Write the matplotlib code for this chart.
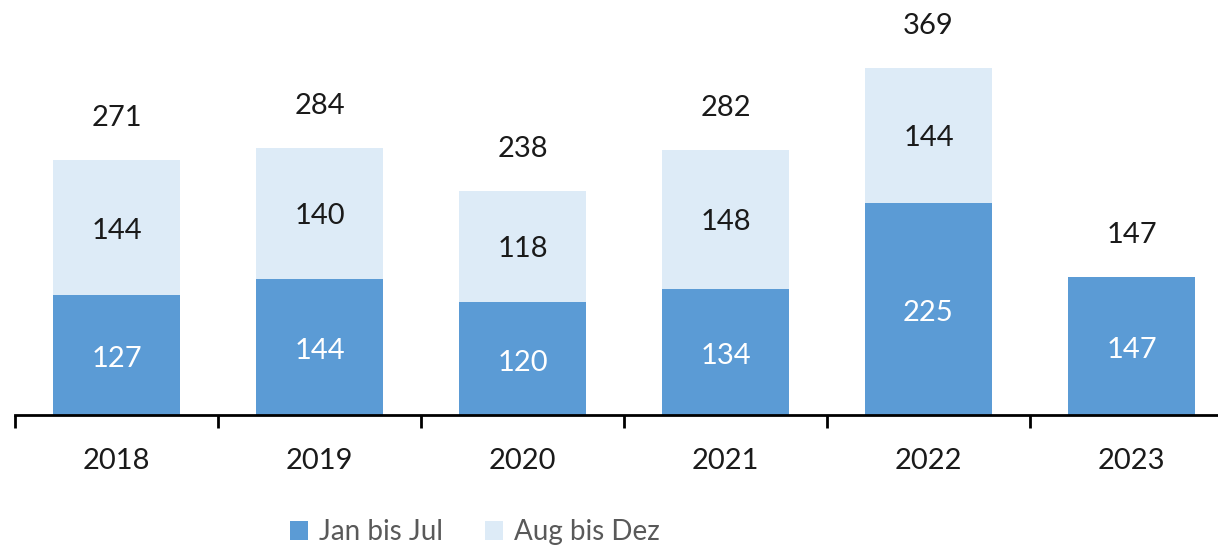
import matplotlib
matplotlib.use("Agg")
import matplotlib.pyplot as plt
import numpy as np

years = ["2018", "2019", "2020", "2021", "2022", "2023"]
jan_jul = [127, 144, 120, 134, 225, 147]
aug_dez = [144, 140, 118, 148, 144, 0]
totals = [271, 284, 238, 282, 369, 147]

plt.rcParams['font.family'] = ['Lato', 'DejaVu Sans']

c_dark = "#5B9BD5"
c_light = "#DDEBF7"

fig = plt.figure(figsize=(12.18, 5.48), dpi=100)
ax = fig.add_axes([15/1218, 133/548, 1.0, 415/548])

x = np.arange(len(years))
w = 0.625
b1 = ax.bar(x, jan_jul, width=w, color=c_dark, label="Jan bis Jul", zorder=2)
b2 = ax.bar(x, aug_dez, width=w, bottom=jan_jul, color=c_light, label="Aug bis Dez", zorder=2)

fs = 21
for i in range(len(years)):
    ax.annotate(str(jan_jul[i]), (x[i], jan_jul[i] / 2), xytext=(0, -3),
                textcoords='offset points', ha='center', va='center',
                color='white', fontsize=fs)
    if aug_dez[i] > 0:
        ax.annotate(str(aug_dez[i]), (x[i], jan_jul[i] + aug_dez[i] / 2), xytext=(0, -2),
                    textcoords='offset points', ha='center', va='center',
                    color='#1a1a1a', fontsize=fs)
    ax.annotate(str(totals[i]), (x[i], totals[i]), xytext=(0, 30),
                textcoords='offset points', ha='center', va='center',
                color='#1a1a1a', fontsize=fs)

ax.set_xlim(-0.5, len(years) - 0.5)
ax.set_ylim(0, 441)
for s in ['top', 'right', 'left']:
    ax.spines[s].set_visible(False)
ax.spines['bottom'].set_linewidth(2)
ax.spines['bottom'].set_color('black')
ax.spines['bottom'].set_zorder(3)
ax.set_yticks([])
ax.set_xticks(x)
ax.set_xticklabels(years, fontsize=fs, color='#1a1a1a')
ax.tick_params(axis='x', which='major', length=0, pad=24)
ax.set_xticks(np.arange(-0.5, len(years) + 0.5, 1), minor=True)
ax.tick_params(axis='x', which='minor', length=9, width=2, color='black')

fig.legend(handles=[b1, b2], labels=["Jan bis Jul", "Aug bis Dez"],
           loc='center', bbox_to_anchor=(475/1218, 1 - 532/548), ncol=2,
           frameon=False, fontsize=20, labelcolor='#595959',
           handlelength=0.65, handleheight=0.65, handletextpad=0.4, columnspacing=1.5)

fig.savefig("out.png", dpi=100)
